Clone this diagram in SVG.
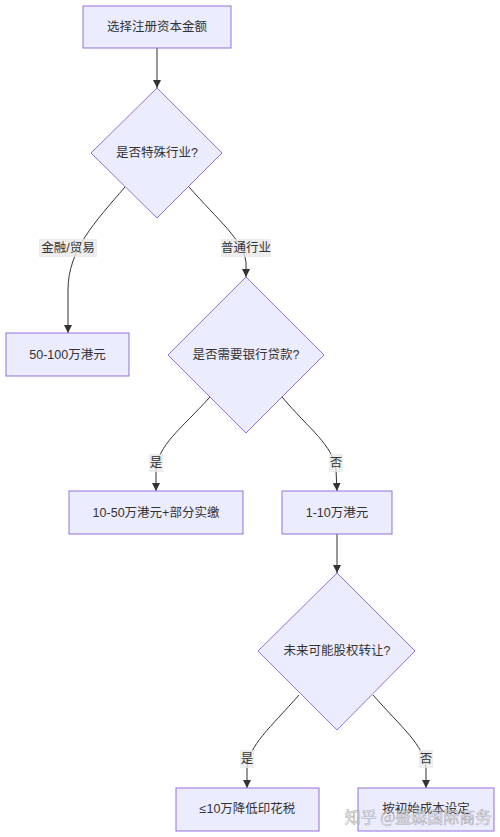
<svg xmlns="http://www.w3.org/2000/svg" width="500" height="837" viewBox="0 0 500 837">
<style>
.node{fill:#ECECFF;stroke:#9370DB;stroke-width:1}
.t{font-family:"Liberation Sans","Noto Sans CJK SC",sans-serif;font-size:12.5px;fill:#333;text-anchor:middle;dominant-baseline:central}
.edge{fill:none;stroke:#333;stroke-width:1}
.lbg{fill:#e8e8e8;opacity:0.8}
.wm{font-family:"Noto Sans CJK SC",sans-serif;font-size:16px;fill:#fff;fill-opacity:0.7;stroke:#888;stroke-width:0.6;stroke-opacity:0.7;text-anchor:middle;dominant-baseline:central}
</style>
<defs>
<marker id="arr" viewBox="0 0 10 10" refX="10" refY="5" markerWidth="8" markerHeight="8" markerUnits="userSpaceOnUse" orient="auto">
<path d="M0,0 L10,5 L0,10 z" fill="#333"/>
</marker>
</defs>
<rect width="500" height="837" fill="#fff"/>
<g id="connectors">
<path class="edge" d="M157,48 L157,88" marker-end="url(#arr)"/>
<path class="edge" d="M125,187 C95,222 68,250 68,290 L68,333" marker-end="url(#arr)"/>
<path class="edge" d="M189,187 C218,220 243,240 246,262 L246,277" marker-end="url(#arr)"/>
<path class="edge" d="M210,397 C180,430 158,445 156,470 L156,491" marker-end="url(#arr)"/>
<path class="edge" d="M282,397 C310,430 333,445 336,470 L337,491" marker-end="url(#arr)"/>
<path class="edge" d="M337,534 L337,573" marker-end="url(#arr)"/>
<path class="edge" d="M299,695 C270,728 249,745 247,768 L247,788" marker-end="url(#arr)"/>
<path class="edge" d="M373,695 C402,728 424,745 426,768 L426,788" marker-end="url(#arr)"/>
<g id="edge-labels">
<rect class="lbg" x="39" y="239" width="58" height="18"/>
<text class="t" x="68" y="248">金融/贸易</text>
<rect class="lbg" x="221" y="239" width="50" height="18"/>
<text class="t" x="246" y="248">普通行业</text>
<rect class="lbg" x="149" y="454" width="14" height="18"/>
<text class="t" x="156" y="463">是</text>
<rect class="lbg" x="329" y="454" width="14" height="18"/>
<text class="t" x="336" y="463">否</text>
<rect class="lbg" x="240" y="750" width="14" height="18"/>
<text class="t" x="247" y="759">是</text>
<rect class="lbg" x="419" y="750" width="14" height="18"/>
<text class="t" x="426" y="759">否</text>
</g>
</g>
<g id="A"><rect class="node" x="83" y="6" width="148" height="42"/><text class="t" x="157" y="27">选择注册资本金额</text></g>
<g id="B"><polygon class="node" points="157,88 222,153 157,218 91,153"/><text class="t" x="157" y="153">是否特殊行业?</text></g>
<g id="C"><rect class="node" x="6" y="333" width="123" height="43"/><text class="t" x="67.5" y="355">50-100万港元</text></g>
<g id="D"><polygon class="node" points="246,277 324,355 246,433 168,355"/><text class="t" x="246" y="355">是否需要银行贷款?</text></g>
<g id="E"><rect class="node" x="69" y="491" width="174" height="43"/><text class="t" x="156" y="513">10-50万港元+部分实缴</text></g>
<g id="F"><rect class="node" x="282" y="491" width="110" height="43"/><text class="t" x="337" y="513">1-10万港元</text></g>
<g id="G"><polygon class="node" points="337,573 415,651 337,730 258,651"/><text class="t" x="337" y="651">未来可能股权转让?</text></g>
<g id="H"><rect class="node" x="176" y="788" width="143" height="43"/><text class="t" x="247.5" y="809">≤10万降低印花税</text></g>
<g id="I"><rect class="node" x="358" y="788" width="136" height="43"/><text class="t" x="426" y="809">按初始成本设定</text></g>
<text class="wm" x="418" y="816">知乎 @盛森国际商务</text>
</svg>
